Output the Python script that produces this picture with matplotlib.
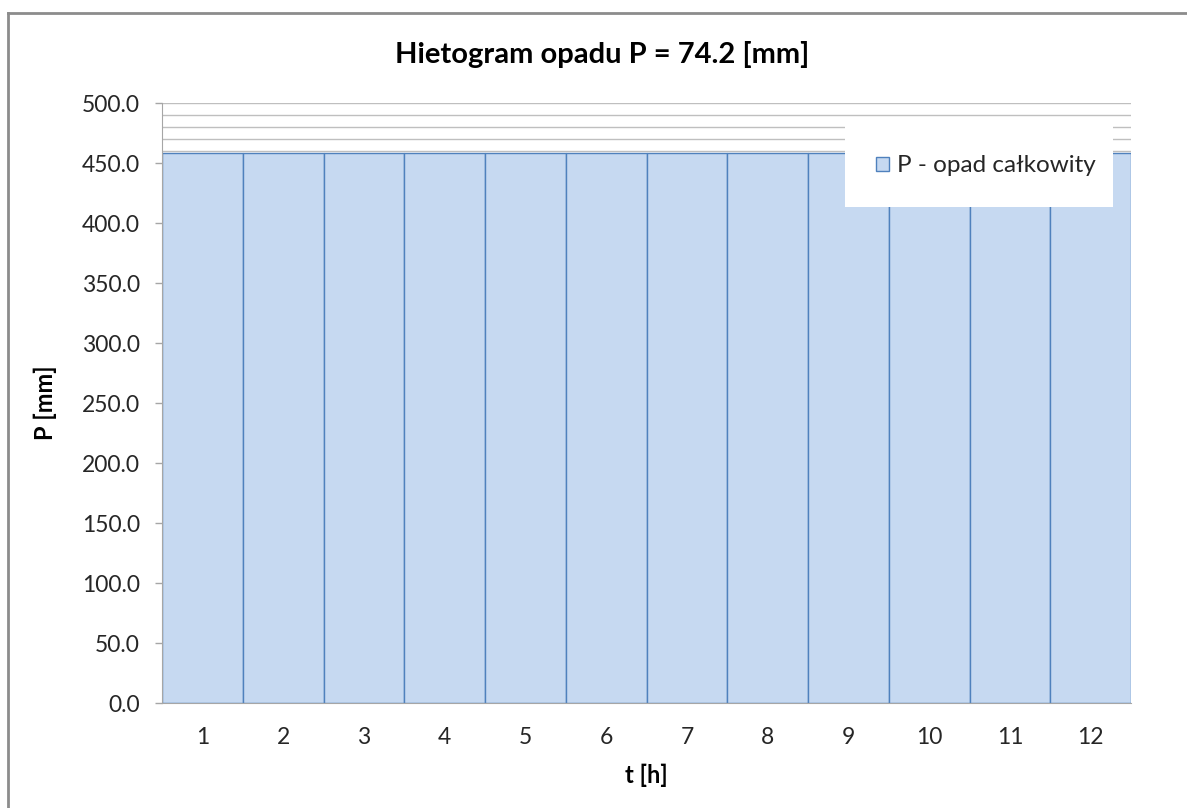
import matplotlib
matplotlib.use('Agg')
from matplotlib import pyplot as plt
from matplotlib.patches import Rectangle
from matplotlib.lines import Line2D
import numpy as np

# data
hours = ['1', '2', '3', '4', '5', '6', '7', '8', '9', '10', '11', '12']
precip = [458.6] * 12
y_ticks = [0, 50, 100, 150, 200, 250, 300, 350, 400, 450, 500]
minor_grid = [460, 470, 480, 490, 500]

plt.rcParams['font.family'] = ['Lato', 'DejaVu Sans']

fill = '#c6d9f1'
edge = '#4f81bd'
axis_grey = '#a6a6a6'
text_col = '#262626'

fig = plt.figure(figsize=(11.87, 8.08), dpi=100)
W, H = 1187, 808

# outer chart border (only top and left show in the picture)
fig.add_artist(Line2D([8 / W, 8 / W], [0, 1 - 13 / H], transform=fig.transFigure, color='#8c8c8c', lw=2))
fig.add_artist(Line2D([8 / W, 1], [1 - 13 / H, 1 - 13 / H], transform=fig.transFigure, color='#8c8c8c', lw=2))

ax = fig.add_axes([162 / W, 1 - 703 / H, (1131 - 162) / W, 600 / H])

x = np.arange(len(hours))
ax.bar(x, precip, width=1.0, color=fill, edgecolor=edge, linewidth=1.0, zorder=3,
       label='P - opad całkowity')

for g in minor_grid:
    ax.axhline(g, color='#bfbfbf', lw=1.0, zorder=1)

ax.set_xlim(-0.5, len(hours) - 0.5)
ax.set_ylim(0, 500)
ax.set_xticks(x)
ax.set_xticklabels(hours)
ax.set_yticks(y_ticks)
ax.set_yticklabels(['%.1f' % v for v in y_ticks])

ax.tick_params(axis='x', length=0, pad=17, labelsize=16.5, labelcolor=text_col)
ax.tick_params(axis='y', length=5, width=1, color=axis_grey, pad=11, labelsize=16.5, labelcolor=text_col)

for s in ['top', 'right']:
    ax.spines[s].set_visible(False)
ax.spines['left'].set_color(axis_grey)
ax.spines['bottom'].set_color(axis_grey)
ax.spines['left'].set_zorder(4)
ax.spines['bottom'].set_zorder(4)

fig.text(602 / W, 1 - 55 / H, 'Hietogram opadu P = 74.2 [mm]', fontsize=21, fontweight='bold',
         color='black', ha='center', va='center')
ax.set_xlabel('t [h]', fontsize=17, fontweight='bold', color='black', va='center')
ax.set_ylabel('P [mm]', fontsize=17, fontweight='bold', color='black', va='center')
ax.xaxis.set_label_coords(0.5, (703 - 775) / 600)
ax.yaxis.set_label_coords((45 - 162) / 969, 0.5)

# white legend box
fig.add_artist(Rectangle((845 / W, 1 - 207 / H), (1113 - 845) / W, 90 / H, transform=fig.transFigure,
                         facecolor='white', edgecolor='none', zorder=5))
leg = fig.legend(loc='center left', bbox_to_anchor=(876 / W, 1 - 166 / H), frameon=False,
                 fontsize=17.5, handlelength=0.55, handleheight=0.55, handletextpad=0.3,
                 borderpad=0, borderaxespad=0)
leg.set_zorder(6)
for t in leg.get_texts():
    t.set_color(text_col)

fig.savefig('out.png', dpi=100)
